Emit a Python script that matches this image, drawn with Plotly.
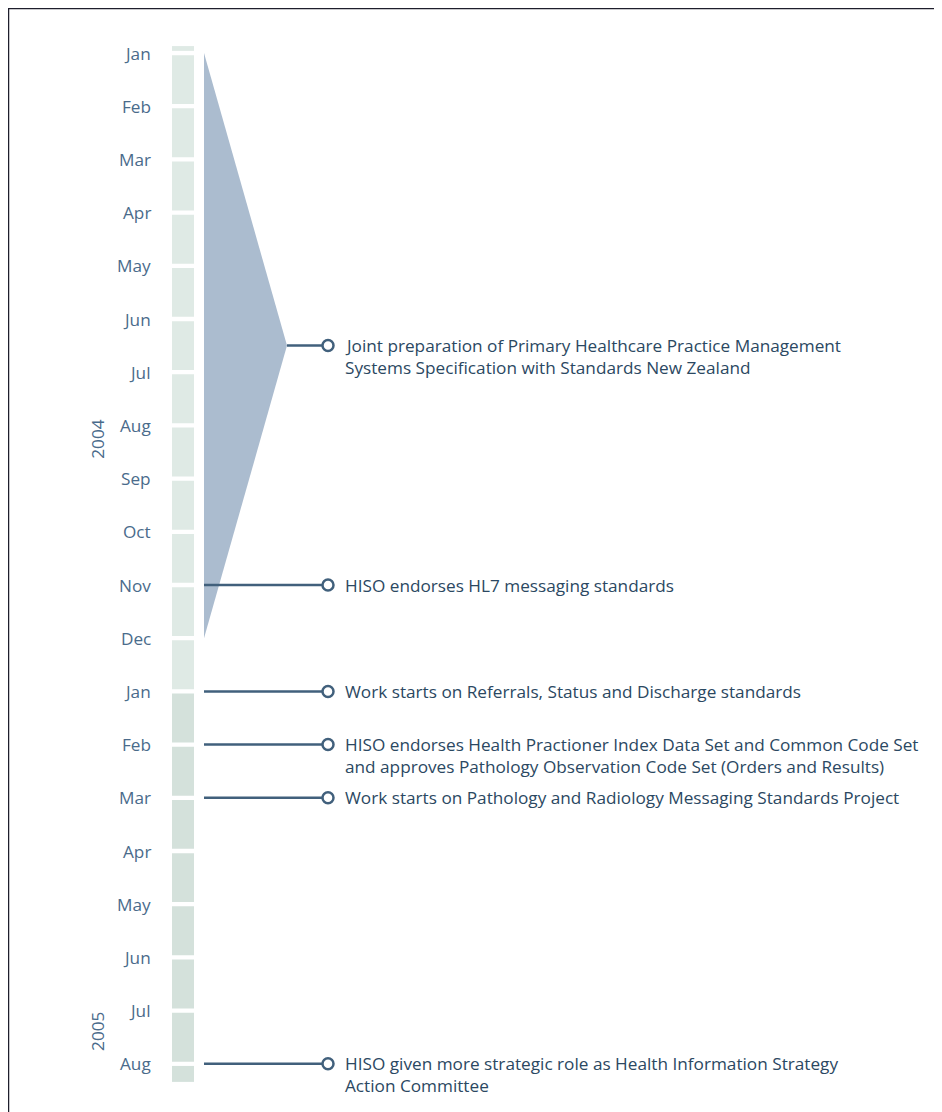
import plotly.graph_objects as go

# ---- data ----
month_labels = ["Jan", "Feb", "Mar", "Apr", "May", "Jun", "Jul", "Aug", "Sep", "Oct", "Nov", "Dec",
                "Jan", "Feb", "Mar", "Apr", "May", "Jun", "Jul", "Aug"]
month_pos = list(range(len(month_labels)))          # 0 = Jan 2004
year_labels = ["2004", "2005"]
year_pos = [7.27, 18.4]
year_first_month = [0, 12]

span_start = 0      # Jan 2004
span_end = 11       # Dec 2004
span_text = ["Joint preparation of Primary Healthcare Practice Management",
             "Systems Specification with Standards New Zealand"]

event_pos = [10, 12, 13, 14, 19]
event_text = [
    ["HISO endorses HL7 messaging standards"],
    ["Work starts on Referrals, Status and Discharge standards"],
    ["HISO endorses Health Practioner Index Data Set and Common Code Set",
     "and approves Pathology Observation Code Set (Orders and Results)"],
    ["Work starts on Pathology and Radiology Messaging Standards Project"],
    ["HISO given more strategic role as Health Information Strategy",
     "Action Committee"],
]

# ---- style / layout constants (screen pixel positions) ----
W, H = 942, 1112
OFF = 8                                  # page body margin
Y0, DY = 53.0, 53.2                      # screen pixel of month 0, pixels per month
BAR_X0, BAR_X1 = 172, 194
LINE_X0, DOT_X, TEXT_X = 204, 328, 343
APEX_X = 287
LABEL_X = 153
YEAR_X = 98
BAR_TOP, BAR_BOT = -0.13, 19.34
GAP = 0.04
C_BAR = ["#dfeae5", "#d4e1db"]
C_TRI = "#abbccf"
C_LINE = "#41607c"
C_TEXT = "#2b4862"
C_MONTH = "#4a6b8b"
FONT = "Open Sans"
FS = 17.2
FS_M = 17.2
LH = 22

ymin = (OFF - Y0) / DY
ymax = (OFF + H - Y0) / DY

fig = go.Figure()
shapes = []
annotations = []

# column segments
edges = [BAR_TOP] + month_pos + [BAR_BOT]
for i in range(len(edges) - 1):
    a, b = edges[i], edges[i + 1]
    y0 = a + (GAP if i > 0 else 0)
    y1 = b - (GAP if i < len(edges) - 2 else 0)
    col = C_BAR[1] if a >= year_first_month[1] else C_BAR[0]
    shapes.append(dict(type="rect", xref="x", yref="y", x0=BAR_X0, x1=BAR_X1, y0=y0, y1=y1,
                       fillcolor=col, line=dict(width=0), layer="below"))

# triangle span
mid = (span_start + span_end) / 2
fig.add_trace(go.Scatter(x=[LINE_X0, APEX_X, LINE_X0, LINE_X0], y=[span_start, mid, span_end, span_start],
                         fill="toself", fillcolor=C_TRI, mode="lines", line=dict(width=0),
                         hoverinfo="skip", showlegend=False))

all_pos = [mid] + event_pos
all_text = [span_text] + event_text
all_x0 = [APEX_X] + [LINE_X0] * len(event_pos)
for p, t, x0 in zip(all_pos, all_text, all_x0):
    fig.add_trace(go.Scatter(x=[x0, DOT_X], y=[p, p], mode="lines",
                             line=dict(color=C_LINE, width=2.5), hoverinfo="skip", showlegend=False))
    fig.add_trace(go.Scatter(x=[DOT_X], y=[p], mode="markers",
                             marker=dict(symbol="circle", size=11, color="white",
                                         line=dict(color=C_LINE, width=2.5)),
                             hoverinfo="skip", showlegend=False))
    for k, line in enumerate(t):
        annotations.append(dict(x=TEXT_X, y=p, xref="x", yref="y", text=line, showarrow=False,
                                xanchor="left", yanchor="middle", yshift=-LH * k,
                                font=dict(family=FONT, size=FS, color=C_TEXT)))

# month labels
for p, lab in zip(month_pos, month_labels):
    annotations.append(dict(x=LABEL_X, y=p, xref="x", yref="y", text=lab, showarrow=False,
                            xanchor="right", yanchor="middle",
                            font=dict(family=FONT, size=FS_M, color=C_MONTH)))
# year labels
for p, lab in zip(year_pos, year_labels):
    annotations.append(dict(x=YEAR_X, y=p, xref="x", yref="y", text=lab, showarrow=False,
                            textangle=-90, xanchor="center", yanchor="middle",
                            font=dict(family=FONT, size=FS_M, color=C_MONTH)))

# frame (top and left edges)
shapes.append(dict(type="line", xref="paper", yref="paper", x0=0, x1=1, y0=1, y1=1,
                   line=dict(color="#1e1e2c", width=2.5)))
shapes.append(dict(type="line", xref="paper", yref="paper", x0=0, x1=0, y0=1, y1=0,
                   line=dict(color="#1e1e2c", width=2.5)))

fig.update_layout(
    width=W, height=H, margin=dict(l=0, r=0, t=0, b=0),
    paper_bgcolor="white", plot_bgcolor="white",
    xaxis=dict(range=[OFF, OFF + W], visible=False, fixedrange=True),
    yaxis=dict(range=[ymax, ymin], visible=False, fixedrange=True),
    shapes=shapes, annotations=annotations, showlegend=False,
)

fig.write_html("out.html")
